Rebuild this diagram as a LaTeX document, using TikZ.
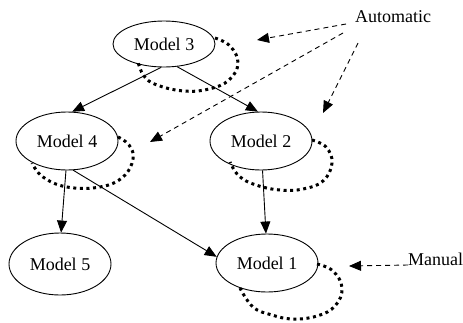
\documentclass[tikz,border=0pt]{standalone}
\usepackage{fontspec}
\setmainfont{Liberation Serif}
\usetikzlibrary{shapes.geometric,arrows.meta}
\tikzset{
  model/.style={ellipse, draw, line width=0.9pt, minimum width=102pt, minimum height=58pt,
    inner sep=0pt, font=\fontsize{18}{20}\selectfont},
  flow/.style={line width=0.9pt, -{Triangle[length=12pt,width=10pt]}},
  hint/.style={line width=0.9pt, dash pattern=on 5pt off 4pt, -{Triangle[length=12pt,width=10pt]}},
  selfloop/.style={line width=3pt, dash pattern=on 3pt off 3.6pt},
  lbl/.style={inner sep=0pt, font=\fontsize{18}{20}\selectfont}
}
\begin{document}
\begin{tikzpicture}[x=1pt, y=-1pt]
\useasboundingbox (0,0) rectangle (463,322);

% models
\node[model, minimum height=46pt] (m3) at (164,44) {Model 3};
\node[model] (m4) at (67,141) {Model 4};
\node[model] (m2) at (261,141) {Model 2};
\node[model, minimum height=62pt] (m5) at (60,264) {Model 5};
\node[model] (m1) at (267,263) {Model 1};

% dependencies
\draw[flow] (m3.-97) -- (m4.80);
\draw[flow] (m3.-60) -- (m2.96);
\draw[flow] (m4.-92) -- (m5.88);
\draw[flow] (m4.-78) -- (m1.173);
\draw[flow] (m2.-87) -- (m1.92);

% self loops
\begin{scope}[shift={(m3.center)}]
  \draw[selfloop] plot[smooth, tension=0.7] coordinates
    {(51,-6) (66,2) (74,19) (65,36) (45,45) (20,47) (-7,41) (-20,32) (-26,18)};
\end{scope}
\begin{scope}[shift={(m4.center)}]
  \draw[selfloop] plot[smooth, tension=0.7] coordinates
    {(51,-4) (62,4) (66,18) (56,36) (33,46) (0,46) (-24,36) (-35,22)};
\end{scope}
\begin{scope}[shift={(m2.center)}]
  \draw[selfloop] plot[smooth, tension=0.7] coordinates
    {(51,-1) (65,6) (71,22) (62,40) (42,48) (19,49) (-5,44) (-22,35) (-31,21)};
\end{scope}
\begin{scope}[shift={(m1.center)}]
  \draw[selfloop] plot[smooth, tension=0.7] coordinates
    {(50,1) (66,8) (75,25) (68,43) (50,53) (26,56) (5,52) (-14,44) (-27,25)};
\end{scope}

% labels and pointers
\node[lbl, anchor=base west] (auto) at (355,22) {Automatic};
\node[lbl, anchor=base west] (man) at (408,265) {Manual};
\coordinate (a1) at (257,40);
\coordinate (a2) at (150,142);
\coordinate (a3) at (323,113);
\coordinate (a4) at (349,266);
\draw[hint] (346,24) -- (a1);
\draw[hint] (343,33) -- (a2);
\draw[hint] (358,43) -- (a3);
\draw[hint] (man.base west) -- (a4);
\end{tikzpicture}
\end{document}
